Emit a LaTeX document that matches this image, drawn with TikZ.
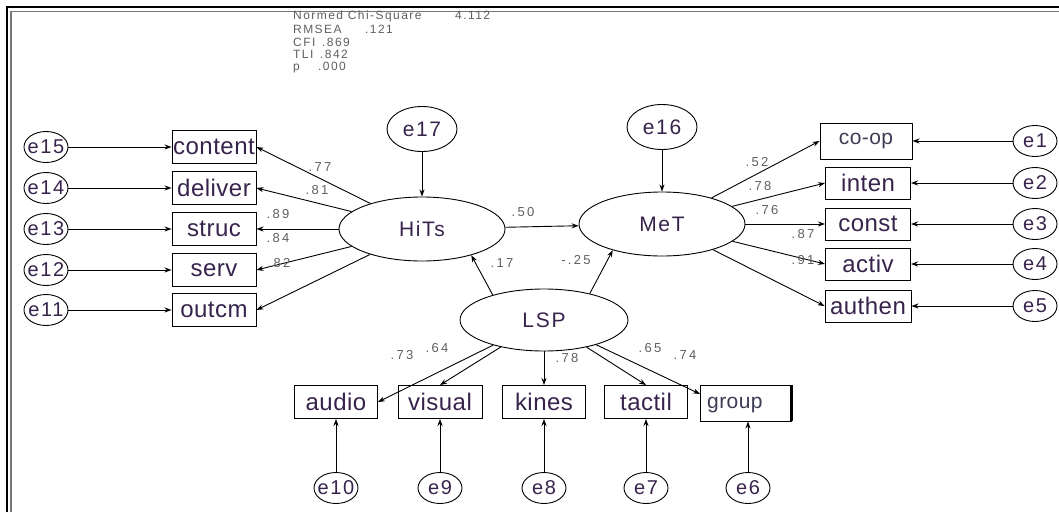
\documentclass[tikz,border=0pt]{standalone}
\usepackage{fontspec}
\setmainfont{Liberation Sans}
\newfontfamily\boxf[LetterSpace=2]{Liberation Sans}
\newfontfamily\latf[LetterSpace=8]{Liberation Sans}
\newfontfamily\errf[LetterSpace=8]{Liberation Sans}
\newfontfamily\cff[LetterSpace=18]{Liberation Sans}
\newfontfamily\fitf[LetterSpace=12]{Liberation Sans}
\usetikzlibrary{shapes.geometric,arrows.meta,calc}
\definecolor{txt}{RGB}{55,35,75}
\definecolor{coef}{RGB}{95,95,95}
\definecolor{framegrey}{RGB}{120,120,120}
\definecolor{grptxt}{RGB}{60,60,85}
\begin{document}
\begin{tikzpicture}[x=1pt,y=-1pt,
 lat/.style={ellipse,draw,line width=0.9pt,minimum width=166,minimum height=64,inner sep=0,font=\latf\fontsize{21}{21}\selectfont,text=txt},
 err/.style={ellipse,draw,line width=0.9pt,minimum width=44,minimum height=31,inner sep=0,
   label={[font=\errf\fontsize{20}{20}\selectfont,text=txt,inner sep=0]center:#1}},
 errbig/.style={ellipse,draw,line width=0.9pt,minimum width=70,minimum height=45,inner sep=0,
   label={[font=\errf\fontsize{21}{21}\selectfont,text=txt,inner sep=0]center:#1}},
 obs/.style={rectangle,draw,line width=0.9pt,minimum width=84,minimum height=33,inner sep=0,font=\boxf\fontsize{24}{24}\selectfont,text=txt},
 arr/.style={-{Stealth[length=7pt,width=5pt]},line width=0.9pt},
 cf/.style={font=\cff\fontsize{13}{13}\selectfont,text=coef,inner sep=0},
 fitt/.style={font=\fitf\fontsize{12}{12}\selectfont,text=coef,anchor=base west,inner sep=0,text height=8.5pt,text depth=1.5pt}]
\useasboundingbox (0,0) rectangle (1059,512);
% frame
\draw[line width=2.5pt] (7,512) -- (7,7) -- (1059,7);
\draw[framegrey,line width=1.8pt] (11,512) -- (11,11.5) -- (1059,11.5);

% fit statistics
\node[fitt] (f1) at (293,19) {Normed Chi-Square};
\node[fitt] (f1v) at (455,19) {4.112};
\node[fitt] (f2) at (293,33) {RMSEA};
\node[fitt] (f2v) at (365,33) {.121};
\node[fitt] (f3) at (293,46) {CFI};
\node[fitt] (f3v) at (322,46) {.869};
\node[fitt] (f4) at (293,58) {TLI};
\node[fitt] (f4v) at (320,58) {.842};
\node[fitt] (f5) at (293,70) {p};
\node[fitt] (f5v) at (318,70) {.000};

% latent variables
\node[lat] (HiTs) at (422,229) {HiTs};
\node[lat] (MeT) at (662,224) {MeT};
\node[lat,minimum width=168,minimum height=62] (LSP) at (544,320) {LSP};
\node[errbig=e17] (e17) at (422,129) {};
\node[errbig=e16] (e16) at (662,127) {};

% left indicators
\node[obs] (content) at (214,147) {content};
\node[obs] (deliver) at (214,188) {deliver};
\node[obs] (struc) at (214,229) {struc};
\node[obs] (serv) at (214,270) {serv};
\node[obs] (outcm) at (214,310) {outcm};
\node[err=e15] (e15) at (46,147) {};
\node[err=e14] (e14) at (46,188) {};
\node[err=e13] (e13) at (46,229) {};
\node[err=e12] (e12) at (46,270) {};
\node[err=e11] (e11) at (46,310) {};

% right indicators
\node[obs,minimum width=92,minimum height=36,font=\boxf\fontsize{21}{21}\selectfont,text=grptxt] (coop) at (866,141) {co-op};
\node[obs,minimum width=85,minimum height=32] (inten) at (868,183) {inten};
\node[obs,minimum width=85,minimum height=32] (const) at (868,224) {const};
\node[obs,minimum width=85,minimum height=32] (activ) at (868,264) {activ};
\node[obs,minimum width=86,minimum height=32] (authen) at (868,306) {authen};
\node[err=e1] (e1) at (1035,141) {};
\node[err=e2] (e2) at (1035,183) {};
\node[err=e3] (e3) at (1035,224) {};
\node[err=e4] (e4) at (1035,264) {};
\node[err=e5] (e5) at (1035,306) {};

% bottom indicators
\node[obs,minimum width=83] (audio) at (336,402) {audio};
\node[obs] (visual) at (440,402) {visual};
\node[obs,minimum width=83] (kines) at (544,402) {kines};
\node[obs,minimum width=83] (tactil) at (646,402) {tactil};
\node[obs,minimum width=91,minimum height=36] (group) at (746,403) {};
\node[font=\boxf\fontsize{21}{21}\selectfont,text=grptxt,anchor=west,inner sep=0] (grouptxt) at (707,405) {group};
\draw[line width=3pt] (group.north east) -- (group.south east);
\node[err=e10] (e10) at (336,488) {};
\node[err=e9] (e9) at (440,488) {};
\node[err=e8] (e8) at (544,488) {};
\node[err=e7] (e7) at (646,488) {};
\node[err=e6] (e6) at (748,488) {};

% error arrows
\foreach \e/\b in {e15/content,e14/deliver,e13/struc,e12/serv,e11/outcm,
                   e1/coop,e2/inten,e3/const,e4/activ,e5/authen,
                   e10/audio,e9/visual,e8/kines,e7/tactil}
  \draw[arr] (\e) -- (\b);
\draw[arr] (e6) -- (group.south -| e6);
\draw[arr] (e17) -- (HiTs);
\draw[arr] (e16) -- (MeT);

% structural paths
\draw[arr] (HiTs) -- (MeT);
\draw[arr] (LSP.154) -- (HiTs.-28);
\draw[arr] (LSP.30) -- (MeT.-152);

% loadings HiTs
\foreach \b in {content,deliver,serv,outcm}
  \draw[arr] (HiTs) -- (\b.east);
\draw[arr] (HiTs.west) -- (struc.east);
% loadings MeT
\foreach \b in {coop,inten,const,activ,authen}
  \draw[arr] (MeT) -- (\b.west);
% loadings LSP
\draw[arr] (LSP) -- (audio.east);
\draw[arr] (LSP) -- (visual.north);
\draw[arr] (LSP.south) -- (kines.north);
\draw[arr] (LSP) -- (tactil.north);
\coordinate (gin) at ($(group.west)+(0,-9)$);
\draw[arr] (LSP) -- (gin);

% coefficients
\node[cf] (c1) at (320,167) {.77};
\node[cf] (c2) at (317,190) {.81};
\node[cf] (c3) at (278,214) {.89};
\node[cf] (c4) at (278,238) {.84};
\node[cf] (c5) at (279,263) {.82};
\node[cf] (c6) at (523,212) {.50};
\node[cf] (c7) at (502,263) {.17};
\node[cf] (c8) at (576,260) {-.25};
\node[cf] (c9) at (757,162) {.52};
\node[cf] (c10) at (760,186) {.78};
\node[cf] (c11) at (767,210) {.76};
\node[cf] (c12) at (803,234) {.87};
\node[cf] (c13) at (803,260) {.91};
\node[cf] (c14) at (402,355) {.73};
\node[cf] (c15) at (437,348) {.64};
\node[cf] (c16) at (567,358) {.78};
\node[cf] (c17) at (650,348) {.65};
\node[cf] (c18) at (685,355) {.74};
\end{tikzpicture}
\end{document}
